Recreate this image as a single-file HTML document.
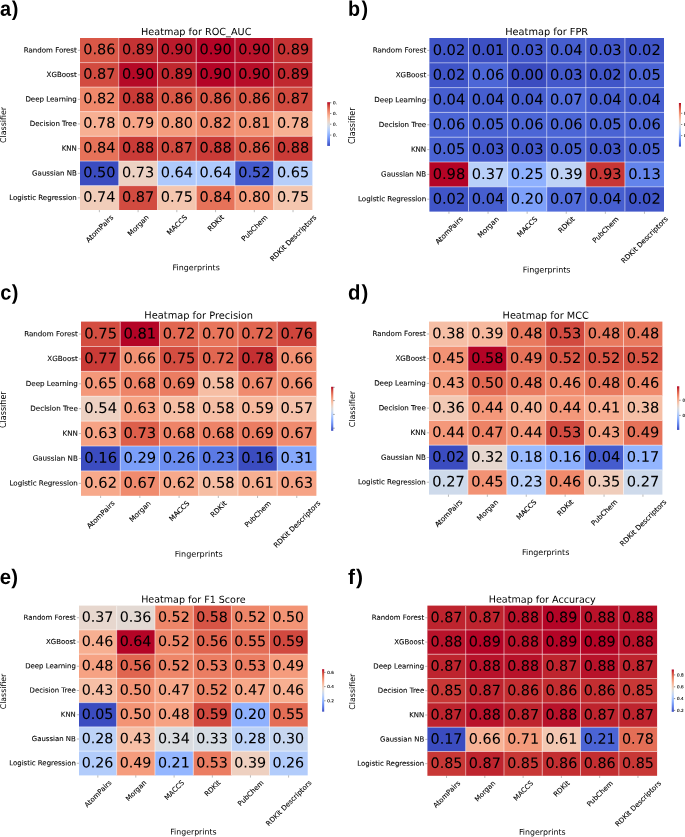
<!DOCTYPE html>
<html lang="en">
<head>
<meta charset="utf-8">
<title>Classifier / fingerprint heatmaps</title>
<style>
html,body{margin:0;padding:0;background:#fff;}
body{width:685px;height:837px;overflow:hidden;}
svg{display:block;will-change:transform;}
text{font-family:"DejaVu Sans","Liberation Sans",sans-serif;fill:#000;}
.tag{font-family:"Liberation Sans","DejaVu Sans",sans-serif;font-weight:700;font-size:21px;}
.ttl{text-anchor:middle;}
.ann text{text-anchor:middle;stroke:#000;stroke-width:.05;}
.ytk text{text-anchor:end;stroke:#000;stroke-width:.1;}
.xtk text{text-anchor:middle;stroke:#000;stroke-width:.1;}
.lab{text-anchor:middle;}
.cbt text{font-size:4.15px;stroke:#000;stroke-width:.12;}
.grid{stroke:#fff;stroke-width:.7;fill:none;stroke-opacity:.75;}
.tick{stroke:#000;stroke-width:.45;fill:none;stroke-opacity:.6;}
.ctick{stroke:#000;stroke-width:.5;fill:none;stroke-opacity:.9;}
</style>
</head>
<body>
<svg width="685" height="837" viewBox="0 0 685 837">
<defs>
<linearGradient id="cw" x1="0" y1="0" x2="0" y2="1">
<stop offset="0.0000" stop-color="#b40426"/>
<stop offset="0.0625" stop-color="#ca3b37"/>
<stop offset="0.1250" stop-color="#dd5f4b"/>
<stop offset="0.1875" stop-color="#eb7d62"/>
<stop offset="0.2500" stop-color="#f4987a"/>
<stop offset="0.3125" stop-color="#f7b093"/>
<stop offset="0.3750" stop-color="#f5c4ac"/>
<stop offset="0.4375" stop-color="#ecd3c5"/>
<stop offset="0.5000" stop-color="#dddcdc"/>
<stop offset="0.5625" stop-color="#ccd9ed"/>
<stop offset="0.6250" stop-color="#b9d0f9"/>
<stop offset="0.6875" stop-color="#a3c2fe"/>
<stop offset="0.7500" stop-color="#8db0fe"/>
<stop offset="0.8125" stop-color="#779af7"/>
<stop offset="0.8750" stop-color="#6282ea"/>
<stop offset="0.9375" stop-color="#4e68d8"/>
<stop offset="1.0000" stop-color="#3b4cc0"/>
</linearGradient>
<clipPath id="clip0"><rect x="0" y="0" width="338" height="837"/></clipPath>
<clipPath id="clip1"><rect x="0" y="0" width="685" height="837"/></clipPath>
<clipPath id="clip2"><rect x="0" y="0" width="336" height="837"/></clipPath>
<clipPath id="clip3"><rect x="0" y="0" width="685" height="837"/></clipPath>
<clipPath id="clip4"><rect x="0" y="0" width="685" height="837"/></clipPath>
<clipPath id="clip5"><rect x="0" y="0" width="685" height="837"/></clipPath>
</defs>
<rect x="0" y="0" width="685" height="837" fill="#fff"/>
<g class="panel">
<text class="tag" transform="translate(0 15.8) rotate(0.05) scale(0.95 1)">a<tspan dx="0.6">)</tspan></text>
<text class="ttl" font-size="9.7" transform="translate(196.2 35.05) rotate(0.05)">Heatmap for ROC_AUC</text>
<g>
<rect x="80" y="38" width="39.03" height="24.9" fill="#d95847"/>
<rect x="118.73" y="38" width="39.03" height="24.9" fill="#c53334"/>
<rect x="157.47" y="38" width="39.03" height="24.9" fill="#bb1b2c"/>
<rect x="196.2" y="38" width="39.03" height="24.9" fill="#b40426"/>
<rect x="234.93" y="38" width="39.03" height="24.9" fill="#b8122a"/>
<rect x="273.67" y="38" width="38.73" height="24.9" fill="#c53334"/>
<rect x="80" y="62.6" width="39.03" height="24.8" fill="#d24b40"/>
<rect x="118.73" y="62.6" width="39.03" height="24.8" fill="#b50927"/>
<rect x="157.47" y="62.6" width="39.03" height="24.8" fill="#c0282f"/>
<rect x="196.2" y="62.6" width="39.03" height="24.8" fill="#b40426"/>
<rect x="234.93" y="62.6" width="39.03" height="24.8" fill="#b70d28"/>
<rect x="273.67" y="62.6" width="38.73" height="24.8" fill="#c0282f"/>
<rect x="80" y="87.1" width="39.03" height="24.8" fill="#ef886b"/>
<rect x="118.73" y="87.1" width="39.03" height="24.8" fill="#ca3b37"/>
<rect x="157.47" y="87.1" width="39.03" height="24.8" fill="#d95847"/>
<rect x="196.2" y="87.1" width="39.03" height="24.8" fill="#d95847"/>
<rect x="234.93" y="87.1" width="39.03" height="24.8" fill="#d95847"/>
<rect x="273.67" y="87.1" width="38.73" height="24.8" fill="#d24b40"/>
<rect x="80" y="111.6" width="39.03" height="25" fill="#f7b093"/>
<rect x="118.73" y="111.6" width="39.03" height="25" fill="#f7a688"/>
<rect x="157.47" y="111.6" width="39.03" height="25" fill="#f59d7e"/>
<rect x="196.2" y="111.6" width="39.03" height="25" fill="#ef886b"/>
<rect x="234.93" y="111.6" width="39.03" height="25" fill="#f39475"/>
<rect x="273.67" y="111.6" width="38.73" height="25" fill="#f7b093"/>
<rect x="80" y="136.3" width="39.03" height="25.05" fill="#e67259"/>
<rect x="118.73" y="136.3" width="39.03" height="25.05" fill="#ca3b37"/>
<rect x="157.47" y="136.3" width="39.03" height="25.05" fill="#d24b40"/>
<rect x="196.2" y="136.3" width="39.03" height="25.05" fill="#ca3b37"/>
<rect x="234.93" y="136.3" width="39.03" height="25.05" fill="#d95847"/>
<rect x="273.67" y="136.3" width="38.73" height="25.05" fill="#ca3b37"/>
<rect x="80" y="161.05" width="39.03" height="24.9" fill="#3b4cc0"/>
<rect x="118.73" y="161.05" width="39.03" height="24.9" fill="#edd2c3"/>
<rect x="157.47" y="161.05" width="39.03" height="24.9" fill="#aec9fc"/>
<rect x="196.2" y="161.05" width="39.03" height="24.9" fill="#aec9fc"/>
<rect x="234.93" y="161.05" width="39.03" height="24.9" fill="#445acc"/>
<rect x="273.67" y="161.05" width="38.73" height="24.9" fill="#b6cefa"/>
<rect x="80" y="185.65" width="39.03" height="24.35" fill="#f1cdba"/>
<rect x="118.73" y="185.65" width="39.03" height="24.35" fill="#d24b40"/>
<rect x="157.47" y="185.65" width="39.03" height="24.35" fill="#f4c6af"/>
<rect x="196.2" y="185.65" width="39.03" height="24.35" fill="#e67259"/>
<rect x="234.93" y="185.65" width="39.03" height="24.35" fill="#f59d7e"/>
<rect x="273.67" y="185.65" width="38.73" height="24.35" fill="#f4c6af"/>
</g>
<path class="grid" d="M118.73 38V210M157.47 38V210M196.2 38V210M234.93 38V210M273.67 38V210M80 62.6H312.4M80 87.1H312.4M80 111.6H312.4M80 136.3H312.4M80 161.05H312.4M80 185.65H312.4"/>
<g class="ann" font-size="14.5">
<text transform="translate(99.37 54.15) rotate(0.05)">0.86</text>
<text transform="translate(138.1 54.15) rotate(0.05)">0.89</text>
<text transform="translate(176.83 54.15) rotate(0.05)">0.90</text>
<text transform="translate(215.57 54.15) rotate(0.05)">0.90</text>
<text transform="translate(254.3 54.15) rotate(0.05)">0.90</text>
<text transform="translate(293.03 54.15) rotate(0.05)">0.89</text>
<text transform="translate(99.37 78.7) rotate(0.05)">0.87</text>
<text transform="translate(138.1 78.7) rotate(0.05)">0.90</text>
<text transform="translate(176.83 78.7) rotate(0.05)">0.89</text>
<text transform="translate(215.57 78.7) rotate(0.05)">0.90</text>
<text transform="translate(254.3 78.7) rotate(0.05)">0.90</text>
<text transform="translate(293.03 78.7) rotate(0.05)">0.89</text>
<text transform="translate(99.37 103.2) rotate(0.05)">0.82</text>
<text transform="translate(138.1 103.2) rotate(0.05)">0.88</text>
<text transform="translate(176.83 103.2) rotate(0.05)">0.86</text>
<text transform="translate(215.57 103.2) rotate(0.05)">0.86</text>
<text transform="translate(254.3 103.2) rotate(0.05)">0.86</text>
<text transform="translate(293.03 103.2) rotate(0.05)">0.87</text>
<text transform="translate(99.37 127.8) rotate(0.05)">0.78</text>
<text transform="translate(138.1 127.8) rotate(0.05)">0.79</text>
<text transform="translate(176.83 127.8) rotate(0.05)">0.80</text>
<text transform="translate(215.57 127.8) rotate(0.05)">0.82</text>
<text transform="translate(254.3 127.8) rotate(0.05)">0.81</text>
<text transform="translate(293.03 127.8) rotate(0.05)">0.78</text>
<text transform="translate(99.37 152.53) rotate(0.05)">0.84</text>
<text transform="translate(138.1 152.53) rotate(0.05)">0.88</text>
<text transform="translate(176.83 152.53) rotate(0.05)">0.87</text>
<text transform="translate(215.57 152.53) rotate(0.05)">0.88</text>
<text transform="translate(254.3 152.53) rotate(0.05)">0.86</text>
<text transform="translate(293.03 152.53) rotate(0.05)">0.88</text>
<text transform="translate(99.37 177.2) rotate(0.05)">0.50</text>
<text transform="translate(138.1 177.2) rotate(0.05)">0.73</text>
<text transform="translate(176.83 177.2) rotate(0.05)">0.64</text>
<text transform="translate(215.57 177.2) rotate(0.05)">0.64</text>
<text transform="translate(254.3 177.2) rotate(0.05)">0.52</text>
<text transform="translate(293.03 177.2) rotate(0.05)">0.65</text>
<text transform="translate(99.37 201.67) rotate(0.05)">0.74</text>
<text transform="translate(138.1 201.67) rotate(0.05)">0.87</text>
<text transform="translate(176.83 201.67) rotate(0.05)">0.75</text>
<text transform="translate(215.57 201.67) rotate(0.05)">0.84</text>
<text transform="translate(254.3 201.67) rotate(0.05)">0.80</text>
<text transform="translate(293.03 201.67) rotate(0.05)">0.75</text>
</g>
<g class="ytk" font-size="7.05">
<text transform="translate(76.8 52.45) rotate(0.05)">Random Forest</text>
<text transform="translate(76.8 77) rotate(0.05)">XGBoost</text>
<text transform="translate(76.8 101.5) rotate(0.05)">Deep Learning</text>
<text transform="translate(76.8 126.1) rotate(0.05)">Decision Tree</text>
<text transform="translate(76.8 150.83) rotate(0.05)">KNN</text>
<text transform="translate(76.8 175.5) rotate(0.05)">Gaussian NB</text>
<text transform="translate(76.8 199.97) rotate(0.05)">Logistic Regression</text>
</g>
<g class="xtk" font-size="7.05">
<text transform="translate(99.37 228.52) rotate(-45)" y="2.6">AtomPairs</text>
<text transform="translate(138.1 225.34) rotate(-45)" y="2.6">Morgan</text>
<text transform="translate(176.83 224.87) rotate(-45)" y="2.6">MACCS</text>
<text transform="translate(215.57 222.95) rotate(-45)" y="2.6">RDKit</text>
<text transform="translate(254.3 227.89) rotate(-45)" y="2.6">PubChem</text>
<text transform="translate(293.03 237.99) rotate(-45)" y="2.6">RDKit Descriptors</text>
</g>
<path class="tick" d="M77.8 50.3H80M77.8 74.85H80M77.8 99.35H80M77.8 123.95H80M77.8 148.68H80M77.8 173.35H80M77.8 197.82H80M99.37 210V212.2M138.1 210V212.2M176.83 210V212.2M215.57 210V212.2M254.3 210V212.2M293.03 210V212.2"/>
<text class="lab" font-size="7.95" transform="translate(196.2 270.2) rotate(0.05)">Fingerprints</text>
<text class="lab" font-size="7.95" transform="translate(5.9 125) rotate(-90)">Classifier</text>
<rect x="327.2" y="102.2" width="2.8" height="43.7" fill="url(#cw)"/>
<g class="cbt" clip-path="url(#clip0)">
<text transform="translate(333.1 104.25) rotate(0.05)">0.</text>
<text transform="translate(333.1 115) rotate(0.05)">0.</text>
<text transform="translate(333.1 125.7) rotate(0.05)">0.</text>
<text transform="translate(333.1 136.6) rotate(0.05)">0.</text>
</g>
<path class="ctick" d="M330 102.75H331.3M330 113.5H331.3M330 124.2H331.3M330 135.1H331.3"/>
</g>
<g class="panel">
<text class="tag" transform="translate(348 15.8) rotate(0.05) scale(0.94 1)">b<tspan dx="1.6">)</tspan></text>
<text class="ttl" font-size="9.79" transform="translate(546.7 35.05) rotate(0.05)">Heatmap for FPR</text>
<g>
<rect x="429.4" y="38" width="39.4" height="25.1" fill="#4055c8"/>
<rect x="468.5" y="38" width="39.4" height="25.1" fill="#3d50c3"/>
<rect x="507.6" y="38" width="39.4" height="25.1" fill="#4358cb"/>
<rect x="546.7" y="38" width="39.4" height="25.1" fill="#465ecf"/>
<rect x="585.8" y="38" width="39.4" height="25.1" fill="#4358cb"/>
<rect x="624.9" y="38" width="39.1" height="25.1" fill="#4055c8"/>
<rect x="429.4" y="62.8" width="39.4" height="25.1" fill="#4055c8"/>
<rect x="468.5" y="62.8" width="39.4" height="25.1" fill="#4c66d6"/>
<rect x="507.6" y="62.8" width="39.4" height="25.1" fill="#3b4cc0"/>
<rect x="546.7" y="62.8" width="39.4" height="25.1" fill="#4358cb"/>
<rect x="585.8" y="62.8" width="39.4" height="25.1" fill="#4055c8"/>
<rect x="624.9" y="62.8" width="39.1" height="25.1" fill="#4a63d3"/>
<rect x="429.4" y="87.6" width="39.4" height="25.1" fill="#465ecf"/>
<rect x="468.5" y="87.6" width="39.4" height="25.1" fill="#465ecf"/>
<rect x="507.6" y="87.6" width="39.4" height="25.1" fill="#465ecf"/>
<rect x="546.7" y="87.6" width="39.4" height="25.1" fill="#506bda"/>
<rect x="585.8" y="87.6" width="39.4" height="25.1" fill="#465ecf"/>
<rect x="624.9" y="87.6" width="39.1" height="25.1" fill="#465ecf"/>
<rect x="429.4" y="112.4" width="39.4" height="25.1" fill="#4c66d6"/>
<rect x="468.5" y="112.4" width="39.4" height="25.1" fill="#4a63d3"/>
<rect x="507.6" y="112.4" width="39.4" height="25.1" fill="#4c66d6"/>
<rect x="546.7" y="112.4" width="39.4" height="25.1" fill="#4c66d6"/>
<rect x="585.8" y="112.4" width="39.4" height="25.1" fill="#4a63d3"/>
<rect x="624.9" y="112.4" width="39.1" height="25.1" fill="#4c66d6"/>
<rect x="429.4" y="137.2" width="39.4" height="25.1" fill="#4a63d3"/>
<rect x="468.5" y="137.2" width="39.4" height="25.1" fill="#4358cb"/>
<rect x="507.6" y="137.2" width="39.4" height="25.1" fill="#4358cb"/>
<rect x="546.7" y="137.2" width="39.4" height="25.1" fill="#4a63d3"/>
<rect x="585.8" y="137.2" width="39.4" height="25.1" fill="#4358cb"/>
<rect x="624.9" y="137.2" width="39.1" height="25.1" fill="#4a63d3"/>
<rect x="429.4" y="162" width="39.4" height="25.1" fill="#b40426"/>
<rect x="468.5" y="162" width="39.4" height="25.1" fill="#b9d0f9"/>
<rect x="507.6" y="162" width="39.4" height="25.1" fill="#8fb1fe"/>
<rect x="546.7" y="162" width="39.4" height="25.1" fill="#bfd3f6"/>
<rect x="585.8" y="162" width="39.4" height="25.1" fill="#c73635"/>
<rect x="624.9" y="162" width="39.1" height="25.1" fill="#6384eb"/>
<rect x="429.4" y="186.8" width="39.4" height="24.8" fill="#4055c8"/>
<rect x="468.5" y="186.8" width="39.4" height="24.8" fill="#465ecf"/>
<rect x="507.6" y="186.8" width="39.4" height="24.8" fill="#7da0f9"/>
<rect x="546.7" y="186.8" width="39.4" height="24.8" fill="#506bda"/>
<rect x="585.8" y="186.8" width="39.4" height="24.8" fill="#465ecf"/>
<rect x="624.9" y="186.8" width="39.1" height="24.8" fill="#4055c8"/>
</g>
<path class="grid" d="M468.5 38V211.6M507.6 38V211.6M546.7 38V211.6M585.8 38V211.6M624.9 38V211.6M429.4 62.8H664M429.4 87.6H664M429.4 112.4H664M429.4 137.2H664M429.4 162H664M429.4 186.8H664"/>
<g class="ann" font-size="14.64">
<text transform="translate(448.95 54.89) rotate(0.05)">0.02</text>
<text transform="translate(488.05 54.89) rotate(0.05)">0.01</text>
<text transform="translate(527.15 54.89) rotate(0.05)">0.03</text>
<text transform="translate(566.25 54.89) rotate(0.05)">0.04</text>
<text transform="translate(605.35 54.89) rotate(0.05)">0.03</text>
<text transform="translate(644.45 54.89) rotate(0.05)">0.02</text>
<text transform="translate(448.95 79.69) rotate(0.05)">0.02</text>
<text transform="translate(488.05 79.69) rotate(0.05)">0.06</text>
<text transform="translate(527.15 79.69) rotate(0.05)">0.00</text>
<text transform="translate(566.25 79.69) rotate(0.05)">0.03</text>
<text transform="translate(605.35 79.69) rotate(0.05)">0.02</text>
<text transform="translate(644.45 79.69) rotate(0.05)">0.05</text>
<text transform="translate(448.95 104.49) rotate(0.05)">0.04</text>
<text transform="translate(488.05 104.49) rotate(0.05)">0.04</text>
<text transform="translate(527.15 104.49) rotate(0.05)">0.04</text>
<text transform="translate(566.25 104.49) rotate(0.05)">0.07</text>
<text transform="translate(605.35 104.49) rotate(0.05)">0.04</text>
<text transform="translate(644.45 104.49) rotate(0.05)">0.04</text>
<text transform="translate(448.95 129.29) rotate(0.05)">0.06</text>
<text transform="translate(488.05 129.29) rotate(0.05)">0.05</text>
<text transform="translate(527.15 129.29) rotate(0.05)">0.06</text>
<text transform="translate(566.25 129.29) rotate(0.05)">0.06</text>
<text transform="translate(605.35 129.29) rotate(0.05)">0.05</text>
<text transform="translate(644.45 129.29) rotate(0.05)">0.06</text>
<text transform="translate(448.95 154.09) rotate(0.05)">0.05</text>
<text transform="translate(488.05 154.09) rotate(0.05)">0.03</text>
<text transform="translate(527.15 154.09) rotate(0.05)">0.03</text>
<text transform="translate(566.25 154.09) rotate(0.05)">0.05</text>
<text transform="translate(605.35 154.09) rotate(0.05)">0.03</text>
<text transform="translate(644.45 154.09) rotate(0.05)">0.05</text>
<text transform="translate(448.95 178.89) rotate(0.05)">0.98</text>
<text transform="translate(488.05 178.89) rotate(0.05)">0.37</text>
<text transform="translate(527.15 178.89) rotate(0.05)">0.25</text>
<text transform="translate(566.25 178.89) rotate(0.05)">0.39</text>
<text transform="translate(605.35 178.89) rotate(0.05)">0.93</text>
<text transform="translate(644.45 178.89) rotate(0.05)">0.13</text>
<text transform="translate(448.95 203.69) rotate(0.05)">0.02</text>
<text transform="translate(488.05 203.69) rotate(0.05)">0.04</text>
<text transform="translate(527.15 203.69) rotate(0.05)">0.20</text>
<text transform="translate(566.25 203.69) rotate(0.05)">0.07</text>
<text transform="translate(605.35 203.69) rotate(0.05)">0.04</text>
<text transform="translate(644.45 203.69) rotate(0.05)">0.02</text>
</g>
<g class="ytk" font-size="7.12">
<text transform="translate(426.2 52.57) rotate(0.05)">Random Forest</text>
<text transform="translate(426.2 77.37) rotate(0.05)">XGBoost</text>
<text transform="translate(426.2 102.17) rotate(0.05)">Deep Learning</text>
<text transform="translate(426.2 126.97) rotate(0.05)">Decision Tree</text>
<text transform="translate(426.2 151.77) rotate(0.05)">KNN</text>
<text transform="translate(426.2 176.57) rotate(0.05)">Gaussian NB</text>
<text transform="translate(426.2 201.37) rotate(0.05)">Logistic Regression</text>
</g>
<g class="xtk" font-size="7.12">
<text transform="translate(448.95 230.26) rotate(-45)" y="2.62">AtomPairs</text>
<text transform="translate(488.05 227.05) rotate(-45)" y="2.62">Morgan</text>
<text transform="translate(527.15 226.58) rotate(-45)" y="2.62">MACCS</text>
<text transform="translate(566.25 224.64) rotate(-45)" y="2.62">RDKit</text>
<text transform="translate(605.35 229.63) rotate(-45)" y="2.62">PubChem</text>
<text transform="translate(644.45 239.82) rotate(-45)" y="2.62">RDKit Descriptors</text>
</g>
<path class="tick" d="M427.2 50.4H429.4M427.2 75.2H429.4M427.2 100H429.4M427.2 124.8H429.4M427.2 149.6H429.4M427.2 174.4H429.4M427.2 199.2H429.4M448.95 211.6V213.8M488.05 211.6V213.8M527.15 211.6V213.8M566.25 211.6V213.8M605.35 211.6V213.8M644.45 211.6V213.8"/>
<text class="lab" font-size="8.03" transform="translate(546.7 272.5) rotate(0.05)">Fingerprints</text>
<text class="lab" font-size="8.03" transform="translate(354.6 125.8) rotate(-90)">Classifier</text>
<rect x="678.9" y="103" width="2.1" height="43.6" fill="url(#cw)"/>
<g class="cbt" clip-path="url(#clip1)">
<text transform="translate(684.1 114.8) rotate(0.05)">0.75</text>
<text transform="translate(684.1 126) rotate(0.05)">0.50</text>
<text transform="translate(684.1 137.1) rotate(0.05)">0.25</text>
</g>
<path class="ctick" d="M681 113.3H682.3M681 124.5H682.3M681 135.6H682.3"/>
</g>
<g class="panel">
<text class="tag" transform="translate(0.2 299.5) rotate(0.05) scale(0.95 1)">c<tspan dx="0.6">)</tspan></text>
<text class="ttl" font-size="9.83" transform="translate(198.7 318.65) rotate(0.05)">Heatmap for Precision</text>
<g>
<rect x="81" y="321.6" width="39.53" height="25.19" fill="#d44e41"/>
<rect x="120.23" y="321.6" width="39.53" height="25.19" fill="#b40426"/>
<rect x="159.47" y="321.6" width="39.53" height="25.19" fill="#e16751"/>
<rect x="198.7" y="321.6" width="39.53" height="25.19" fill="#e8765c"/>
<rect x="237.93" y="321.6" width="39.53" height="25.19" fill="#e16751"/>
<rect x="277.17" y="321.6" width="39.23" height="25.19" fill="#cf453c"/>
<rect x="81" y="346.49" width="39.53" height="25.19" fill="#ca3b37"/>
<rect x="120.23" y="346.49" width="39.53" height="25.19" fill="#f29274"/>
<rect x="159.47" y="346.49" width="39.53" height="25.19" fill="#d44e41"/>
<rect x="198.7" y="346.49" width="39.53" height="25.19" fill="#e16751"/>
<rect x="237.93" y="346.49" width="39.53" height="25.19" fill="#c43032"/>
<rect x="277.17" y="346.49" width="39.23" height="25.19" fill="#f29274"/>
<rect x="81" y="371.37" width="39.53" height="25.19" fill="#f4987a"/>
<rect x="120.23" y="371.37" width="39.53" height="25.19" fill="#ee8468"/>
<rect x="159.47" y="371.37" width="39.53" height="25.19" fill="#eb7d62"/>
<rect x="198.7" y="371.37" width="39.53" height="25.19" fill="#f6bea4"/>
<rect x="237.93" y="371.37" width="39.53" height="25.19" fill="#f08b6e"/>
<rect x="277.17" y="371.37" width="39.23" height="25.19" fill="#f29274"/>
<rect x="81" y="396.26" width="39.53" height="25.19" fill="#edd1c2"/>
<rect x="120.23" y="396.26" width="39.53" height="25.19" fill="#f6a385"/>
<rect x="159.47" y="396.26" width="39.53" height="25.19" fill="#f6bea4"/>
<rect x="198.7" y="396.26" width="39.53" height="25.19" fill="#f6bea4"/>
<rect x="237.93" y="396.26" width="39.53" height="25.19" fill="#f7b99e"/>
<rect x="277.17" y="396.26" width="39.23" height="25.19" fill="#f5c2aa"/>
<rect x="81" y="421.14" width="39.53" height="25.19" fill="#f6a385"/>
<rect x="120.23" y="421.14" width="39.53" height="25.19" fill="#dd5f4b"/>
<rect x="159.47" y="421.14" width="39.53" height="25.19" fill="#ee8468"/>
<rect x="198.7" y="421.14" width="39.53" height="25.19" fill="#ee8468"/>
<rect x="237.93" y="421.14" width="39.53" height="25.19" fill="#eb7d62"/>
<rect x="277.17" y="421.14" width="39.23" height="25.19" fill="#f08b6e"/>
<rect x="81" y="446.03" width="39.53" height="25.19" fill="#3b4cc0"/>
<rect x="120.23" y="446.03" width="39.53" height="25.19" fill="#7b9ff9"/>
<rect x="159.47" y="446.03" width="39.53" height="25.19" fill="#6b8df0"/>
<rect x="198.7" y="446.03" width="39.53" height="25.19" fill="#5b7ae5"/>
<rect x="237.93" y="446.03" width="39.53" height="25.19" fill="#3b4cc0"/>
<rect x="277.17" y="446.03" width="39.23" height="25.19" fill="#86a9fc"/>
<rect x="81" y="470.91" width="39.53" height="24.89" fill="#f7a98b"/>
<rect x="120.23" y="470.91" width="39.53" height="24.89" fill="#f08b6e"/>
<rect x="159.47" y="470.91" width="39.53" height="24.89" fill="#f7a98b"/>
<rect x="198.7" y="470.91" width="39.53" height="24.89" fill="#f6bea4"/>
<rect x="237.93" y="470.91" width="39.53" height="24.89" fill="#f7af91"/>
<rect x="277.17" y="470.91" width="39.23" height="24.89" fill="#f6a385"/>
</g>
<path class="grid" d="M120.23 321.6V495.8M159.47 321.6V495.8M198.7 321.6V495.8M237.93 321.6V495.8M277.17 321.6V495.8M81 346.49H316.4M81 371.37H316.4M81 396.26H316.4M81 421.14H316.4M81 446.03H316.4M81 470.91H316.4"/>
<g class="ann" font-size="14.69">
<text transform="translate(100.62 338.39) rotate(0.05)">0.75</text>
<text transform="translate(139.85 338.39) rotate(0.05)">0.81</text>
<text transform="translate(179.08 338.39) rotate(0.05)">0.72</text>
<text transform="translate(218.32 338.39) rotate(0.05)">0.70</text>
<text transform="translate(257.55 338.39) rotate(0.05)">0.72</text>
<text transform="translate(296.78 338.39) rotate(0.05)">0.76</text>
<text transform="translate(100.62 363.28) rotate(0.05)">0.77</text>
<text transform="translate(139.85 363.28) rotate(0.05)">0.66</text>
<text transform="translate(179.08 363.28) rotate(0.05)">0.75</text>
<text transform="translate(218.32 363.28) rotate(0.05)">0.72</text>
<text transform="translate(257.55 363.28) rotate(0.05)">0.78</text>
<text transform="translate(296.78 363.28) rotate(0.05)">0.66</text>
<text transform="translate(100.62 388.16) rotate(0.05)">0.65</text>
<text transform="translate(139.85 388.16) rotate(0.05)">0.68</text>
<text transform="translate(179.08 388.16) rotate(0.05)">0.69</text>
<text transform="translate(218.32 388.16) rotate(0.05)">0.58</text>
<text transform="translate(257.55 388.16) rotate(0.05)">0.67</text>
<text transform="translate(296.78 388.16) rotate(0.05)">0.66</text>
<text transform="translate(100.62 413.05) rotate(0.05)">0.54</text>
<text transform="translate(139.85 413.05) rotate(0.05)">0.63</text>
<text transform="translate(179.08 413.05) rotate(0.05)">0.58</text>
<text transform="translate(218.32 413.05) rotate(0.05)">0.58</text>
<text transform="translate(257.55 413.05) rotate(0.05)">0.59</text>
<text transform="translate(296.78 413.05) rotate(0.05)">0.57</text>
<text transform="translate(100.62 437.94) rotate(0.05)">0.63</text>
<text transform="translate(139.85 437.94) rotate(0.05)">0.73</text>
<text transform="translate(179.08 437.94) rotate(0.05)">0.68</text>
<text transform="translate(218.32 437.94) rotate(0.05)">0.68</text>
<text transform="translate(257.55 437.94) rotate(0.05)">0.69</text>
<text transform="translate(296.78 437.94) rotate(0.05)">0.67</text>
<text transform="translate(100.62 462.82) rotate(0.05)">0.16</text>
<text transform="translate(139.85 462.82) rotate(0.05)">0.29</text>
<text transform="translate(179.08 462.82) rotate(0.05)">0.26</text>
<text transform="translate(218.32 462.82) rotate(0.05)">0.23</text>
<text transform="translate(257.55 462.82) rotate(0.05)">0.16</text>
<text transform="translate(296.78 462.82) rotate(0.05)">0.31</text>
<text transform="translate(100.62 487.71) rotate(0.05)">0.62</text>
<text transform="translate(139.85 487.71) rotate(0.05)">0.67</text>
<text transform="translate(179.08 487.71) rotate(0.05)">0.62</text>
<text transform="translate(218.32 487.71) rotate(0.05)">0.58</text>
<text transform="translate(257.55 487.71) rotate(0.05)">0.61</text>
<text transform="translate(296.78 487.71) rotate(0.05)">0.63</text>
</g>
<g class="ytk" font-size="7.14">
<text transform="translate(77.8 336.22) rotate(0.05)">Random Forest</text>
<text transform="translate(77.8 361.11) rotate(0.05)">XGBoost</text>
<text transform="translate(77.8 385.99) rotate(0.05)">Deep Learning</text>
<text transform="translate(77.8 410.88) rotate(0.05)">Decision Tree</text>
<text transform="translate(77.8 435.76) rotate(0.05)">KNN</text>
<text transform="translate(77.8 460.65) rotate(0.05)">Gaussian NB</text>
<text transform="translate(77.8 485.53) rotate(0.05)">Logistic Regression</text>
</g>
<g class="xtk" font-size="7.14">
<text transform="translate(100.62 514.52) rotate(-45)" y="2.63">AtomPairs</text>
<text transform="translate(139.85 511.3) rotate(-45)" y="2.63">Morgan</text>
<text transform="translate(179.08 510.82) rotate(-45)" y="2.63">MACCS</text>
<text transform="translate(218.32 508.87) rotate(-45)" y="2.63">RDKit</text>
<text transform="translate(257.55 513.89) rotate(-45)" y="2.63">PubChem</text>
<text transform="translate(296.78 524.11) rotate(-45)" y="2.63">RDKit Descriptors</text>
</g>
<path class="tick" d="M78.8 334.04H81M78.8 358.93H81M78.8 383.81H81M78.8 408.7H81M78.8 433.59H81M78.8 458.47H81M78.8 483.36H81M100.62 495.8V498M139.85 495.8V498M179.08 495.8V498M218.32 495.8V498M257.55 495.8V498M296.78 495.8V498"/>
<text class="lab" font-size="8.05" transform="translate(198.7 556.8) rotate(0.05)">Fingerprints</text>
<text class="lab" font-size="8.05" transform="translate(5.9 409.7) rotate(-90)">Classifier</text>
<rect x="331.1" y="386.8" width="2.2" height="44" fill="url(#cw)"/>
<g class="cbt" clip-path="url(#clip2)">
</g>
<path class="ctick" d="M333.3 387.3H334.6M333.3 400.6H334.6M333.3 414.4H334.6M333.3 428.2H334.6"/>
</g>
<g class="panel">
<text class="tag" transform="translate(348.1 299.5) rotate(0.05) scale(0.97 1)">d<tspan dx="1.1">)</tspan></text>
<text class="ttl" font-size="9.74" transform="translate(545.7 318.65) rotate(0.05)">Heatmap for MCC</text>
<g>
<rect x="429" y="321.6" width="39.2" height="25.01" fill="#f6bfa6"/>
<rect x="467.9" y="321.6" width="39.2" height="25.01" fill="#f7b99e"/>
<rect x="506.8" y="321.6" width="39.2" height="25.01" fill="#e97a5f"/>
<rect x="545.7" y="321.6" width="39.2" height="25.01" fill="#d24b40"/>
<rect x="584.6" y="321.6" width="39.2" height="25.01" fill="#e97a5f"/>
<rect x="623.5" y="321.6" width="38.9" height="25.01" fill="#e97a5f"/>
<rect x="429" y="346.31" width="39.2" height="25.01" fill="#f29274"/>
<rect x="467.9" y="346.31" width="39.2" height="25.01" fill="#b40426"/>
<rect x="506.8" y="346.31" width="39.2" height="25.01" fill="#e67259"/>
<rect x="545.7" y="346.31" width="39.2" height="25.01" fill="#d85646"/>
<rect x="584.6" y="346.31" width="39.2" height="25.01" fill="#d85646"/>
<rect x="623.5" y="346.31" width="38.9" height="25.01" fill="#d85646"/>
<rect x="429" y="371.03" width="39.2" height="25.01" fill="#f5a081"/>
<rect x="467.9" y="371.03" width="39.2" height="25.01" fill="#e26952"/>
<rect x="506.8" y="371.03" width="39.2" height="25.01" fill="#e97a5f"/>
<rect x="545.7" y="371.03" width="39.2" height="25.01" fill="#f08a6c"/>
<rect x="584.6" y="371.03" width="39.2" height="25.01" fill="#e97a5f"/>
<rect x="623.5" y="371.03" width="38.9" height="25.01" fill="#f08a6c"/>
<rect x="429" y="395.74" width="39.2" height="25.01" fill="#f2c9b4"/>
<rect x="467.9" y="395.74" width="39.2" height="25.01" fill="#f4987a"/>
<rect x="506.8" y="395.74" width="39.2" height="25.01" fill="#f7b497"/>
<rect x="545.7" y="395.74" width="39.2" height="25.01" fill="#f4987a"/>
<rect x="584.6" y="395.74" width="39.2" height="25.01" fill="#f7ad90"/>
<rect x="623.5" y="395.74" width="38.9" height="25.01" fill="#f6bfa6"/>
<rect x="429" y="420.46" width="39.2" height="25.01" fill="#f4987a"/>
<rect x="467.9" y="420.46" width="39.2" height="25.01" fill="#ed8366"/>
<rect x="506.8" y="420.46" width="39.2" height="25.01" fill="#f4987a"/>
<rect x="545.7" y="420.46" width="39.2" height="25.01" fill="#d24b40"/>
<rect x="584.6" y="420.46" width="39.2" height="25.01" fill="#f5a081"/>
<rect x="623.5" y="420.46" width="38.9" height="25.01" fill="#e67259"/>
<rect x="429" y="445.17" width="39.2" height="25.01" fill="#3b4cc0"/>
<rect x="467.9" y="445.17" width="39.2" height="25.01" fill="#e6d7cf"/>
<rect x="506.8" y="445.17" width="39.2" height="25.01" fill="#9abbff"/>
<rect x="545.7" y="445.17" width="39.2" height="25.01" fill="#8db0fe"/>
<rect x="584.6" y="445.17" width="39.2" height="25.01" fill="#455cce"/>
<rect x="623.5" y="445.17" width="38.9" height="25.01" fill="#93b5fe"/>
<rect x="429" y="469.89" width="39.2" height="24.71" fill="#cedaeb"/>
<rect x="467.9" y="469.89" width="39.2" height="24.71" fill="#f29274"/>
<rect x="506.8" y="469.89" width="39.2" height="24.71" fill="#b9d0f9"/>
<rect x="545.7" y="469.89" width="39.2" height="24.71" fill="#f08a6c"/>
<rect x="584.6" y="469.89" width="39.2" height="24.71" fill="#f0cdbb"/>
<rect x="623.5" y="469.89" width="38.9" height="24.71" fill="#cedaeb"/>
</g>
<path class="grid" d="M467.9 321.6V494.6M506.8 321.6V494.6M545.7 321.6V494.6M584.6 321.6V494.6M623.5 321.6V494.6M429 346.31H662.4M429 371.03H662.4M429 395.74H662.4M429 420.46H662.4M429 445.17H662.4M429 469.89H662.4"/>
<g class="ann" font-size="14.56">
<text transform="translate(448.45 338.27) rotate(0.05)">0.38</text>
<text transform="translate(487.35 338.27) rotate(0.05)">0.39</text>
<text transform="translate(526.25 338.27) rotate(0.05)">0.48</text>
<text transform="translate(565.15 338.27) rotate(0.05)">0.53</text>
<text transform="translate(604.05 338.27) rotate(0.05)">0.48</text>
<text transform="translate(642.95 338.27) rotate(0.05)">0.48</text>
<text transform="translate(448.45 362.99) rotate(0.05)">0.45</text>
<text transform="translate(487.35 362.99) rotate(0.05)">0.58</text>
<text transform="translate(526.25 362.99) rotate(0.05)">0.49</text>
<text transform="translate(565.15 362.99) rotate(0.05)">0.52</text>
<text transform="translate(604.05 362.99) rotate(0.05)">0.52</text>
<text transform="translate(642.95 362.99) rotate(0.05)">0.52</text>
<text transform="translate(448.45 387.7) rotate(0.05)">0.43</text>
<text transform="translate(487.35 387.7) rotate(0.05)">0.50</text>
<text transform="translate(526.25 387.7) rotate(0.05)">0.48</text>
<text transform="translate(565.15 387.7) rotate(0.05)">0.46</text>
<text transform="translate(604.05 387.7) rotate(0.05)">0.48</text>
<text transform="translate(642.95 387.7) rotate(0.05)">0.46</text>
<text transform="translate(448.45 412.42) rotate(0.05)">0.36</text>
<text transform="translate(487.35 412.42) rotate(0.05)">0.44</text>
<text transform="translate(526.25 412.42) rotate(0.05)">0.40</text>
<text transform="translate(565.15 412.42) rotate(0.05)">0.44</text>
<text transform="translate(604.05 412.42) rotate(0.05)">0.41</text>
<text transform="translate(642.95 412.42) rotate(0.05)">0.38</text>
<text transform="translate(448.45 437.13) rotate(0.05)">0.44</text>
<text transform="translate(487.35 437.13) rotate(0.05)">0.47</text>
<text transform="translate(526.25 437.13) rotate(0.05)">0.44</text>
<text transform="translate(565.15 437.13) rotate(0.05)">0.53</text>
<text transform="translate(604.05 437.13) rotate(0.05)">0.43</text>
<text transform="translate(642.95 437.13) rotate(0.05)">0.49</text>
<text transform="translate(448.45 461.85) rotate(0.05)">0.02</text>
<text transform="translate(487.35 461.85) rotate(0.05)">0.32</text>
<text transform="translate(526.25 461.85) rotate(0.05)">0.18</text>
<text transform="translate(565.15 461.85) rotate(0.05)">0.16</text>
<text transform="translate(604.05 461.85) rotate(0.05)">0.04</text>
<text transform="translate(642.95 461.85) rotate(0.05)">0.17</text>
<text transform="translate(448.45 486.56) rotate(0.05)">0.27</text>
<text transform="translate(487.35 486.56) rotate(0.05)">0.45</text>
<text transform="translate(526.25 486.56) rotate(0.05)">0.23</text>
<text transform="translate(565.15 486.56) rotate(0.05)">0.46</text>
<text transform="translate(604.05 486.56) rotate(0.05)">0.35</text>
<text transform="translate(642.95 486.56) rotate(0.05)">0.27</text>
</g>
<g class="ytk" font-size="7.08">
<text transform="translate(425.8 336.12) rotate(0.05)">Random Forest</text>
<text transform="translate(425.8 360.83) rotate(0.05)">XGBoost</text>
<text transform="translate(425.8 385.54) rotate(0.05)">Deep Learning</text>
<text transform="translate(425.8 410.26) rotate(0.05)">Decision Tree</text>
<text transform="translate(425.8 434.97) rotate(0.05)">KNN</text>
<text transform="translate(425.8 459.69) rotate(0.05)">Gaussian NB</text>
<text transform="translate(425.8 484.4) rotate(0.05)">Logistic Regression</text>
</g>
<g class="xtk" font-size="7.08">
<text transform="translate(448.45 513.18) rotate(-45)" y="2.61">AtomPairs</text>
<text transform="translate(487.35 509.99) rotate(-45)" y="2.61">Morgan</text>
<text transform="translate(526.25 509.52) rotate(-45)" y="2.61">MACCS</text>
<text transform="translate(565.15 507.59) rotate(-45)" y="2.61">RDKit</text>
<text transform="translate(604.05 512.56) rotate(-45)" y="2.61">PubChem</text>
<text transform="translate(642.95 522.69) rotate(-45)" y="2.61">RDKit Descriptors</text>
</g>
<path class="tick" d="M426.8 333.96H429M426.8 358.67H429M426.8 383.39H429M426.8 408.1H429M426.8 432.81H429M426.8 457.53H429M426.8 482.24H429M448.45 494.6V496.8M487.35 494.6V496.8M526.25 494.6V496.8M565.15 494.6V496.8M604.05 494.6V496.8M642.95 494.6V496.8"/>
<text class="lab" font-size="7.98" transform="translate(545.7 555.1) rotate(0.05)">Fingerprints</text>
<text class="lab" font-size="7.98" transform="translate(354.6 409.1) rotate(-90)">Classifier</text>
<rect x="677" y="386.3" width="2.3" height="43.6" fill="url(#cw)"/>
<g class="cbt" clip-path="url(#clip3)">
<text transform="translate(682.4 401.75) rotate(0.05)">0.4</text>
<text transform="translate(682.4 416.9) rotate(0.05)">0.2</text>
</g>
<path class="ctick" d="M679.3 400.25H680.6M679.3 415.4H680.6"/>
</g>
<g class="panel">
<text class="tag" transform="translate(-0.3 583.9) rotate(0.05) scale(0.97 1)">e<tspan dx="0.3">)</tspan></text>
<text class="ttl" font-size="9.55" transform="translate(193.35 602.65) rotate(0.05)">Heatmap for F1 Score</text>
<g>
<rect x="79" y="605.6" width="37.95" height="24.56" fill="#e7d7ce"/>
<rect x="116.65" y="605.6" width="38.6" height="24.56" fill="#e3d9d3"/>
<rect x="154.95" y="605.6" width="38.65" height="24.56" fill="#ee8669"/>
<rect x="193.3" y="605.6" width="38.4" height="24.56" fill="#d75445"/>
<rect x="231.4" y="605.6" width="38.4" height="24.56" fill="#ee8669"/>
<rect x="269.5" y="605.6" width="38.2" height="24.56" fill="#f39475"/>
<rect x="79" y="629.86" width="37.95" height="24.56" fill="#f7af91"/>
<rect x="116.65" y="629.86" width="38.6" height="24.56" fill="#b40426"/>
<rect x="154.95" y="629.86" width="38.65" height="24.56" fill="#ee8669"/>
<rect x="193.3" y="629.86" width="38.4" height="24.56" fill="#e0654f"/>
<rect x="231.4" y="629.86" width="38.4" height="24.56" fill="#e46e56"/>
<rect x="269.5" y="629.86" width="38.2" height="24.56" fill="#d1493f"/>
<rect x="79" y="654.11" width="37.95" height="24.56" fill="#f6a283"/>
<rect x="116.65" y="654.11" width="38.6" height="24.56" fill="#e0654f"/>
<rect x="154.95" y="654.11" width="38.65" height="24.56" fill="#ee8669"/>
<rect x="193.3" y="654.11" width="38.4" height="24.56" fill="#eb7d62"/>
<rect x="231.4" y="654.11" width="38.4" height="24.56" fill="#eb7d62"/>
<rect x="269.5" y="654.11" width="38.2" height="24.56" fill="#f59c7d"/>
<rect x="79" y="678.37" width="37.95" height="24.56" fill="#f6bfa6"/>
<rect x="116.65" y="678.37" width="38.6" height="24.56" fill="#f39475"/>
<rect x="154.95" y="678.37" width="38.65" height="24.56" fill="#f7a889"/>
<rect x="193.3" y="678.37" width="38.4" height="24.56" fill="#ee8669"/>
<rect x="231.4" y="678.37" width="38.4" height="24.56" fill="#f7a889"/>
<rect x="269.5" y="678.37" width="38.2" height="24.56" fill="#f7af91"/>
<rect x="79" y="702.63" width="37.95" height="24.56" fill="#3b4cc0"/>
<rect x="116.65" y="702.63" width="38.6" height="24.56" fill="#f39475"/>
<rect x="154.95" y="702.63" width="38.65" height="24.56" fill="#f6a283"/>
<rect x="193.3" y="702.63" width="38.4" height="24.56" fill="#d1493f"/>
<rect x="231.4" y="702.63" width="38.4" height="24.56" fill="#8fb1fe"/>
<rect x="269.5" y="702.63" width="38.2" height="24.56" fill="#e46e56"/>
<rect x="79" y="726.89" width="37.95" height="24.56" fill="#bcd2f7"/>
<rect x="116.65" y="726.89" width="38.6" height="24.56" fill="#f6bfa6"/>
<rect x="154.95" y="726.89" width="38.65" height="24.56" fill="#dadce0"/>
<rect x="193.3" y="726.89" width="38.4" height="24.56" fill="#d6dce4"/>
<rect x="231.4" y="726.89" width="38.4" height="24.56" fill="#bcd2f7"/>
<rect x="269.5" y="726.89" width="38.2" height="24.56" fill="#c7d7f0"/>
<rect x="79" y="751.14" width="37.95" height="24.26" fill="#b2ccfb"/>
<rect x="116.65" y="751.14" width="38.6" height="24.26" fill="#f59c7d"/>
<rect x="154.95" y="751.14" width="38.65" height="24.26" fill="#94b6ff"/>
<rect x="193.3" y="751.14" width="38.4" height="24.26" fill="#eb7d62"/>
<rect x="231.4" y="751.14" width="38.4" height="24.26" fill="#eed0c0"/>
<rect x="269.5" y="751.14" width="38.2" height="24.26" fill="#b2ccfb"/>
</g>
<path class="grid" d="M116.65 605.6V775.4M154.95 605.6V775.4M193.3 605.6V775.4M231.4 605.6V775.4M269.5 605.6V775.4M79 629.86H307.7M79 654.11H307.7M79 678.37H307.7M79 702.63H307.7M79 726.89H307.7M79 751.14H307.7"/>
<g class="ann" font-size="14.27">
<text transform="translate(97.53 621.87) rotate(0.05)">0.37</text>
<text transform="translate(135.5 621.87) rotate(0.05)">0.36</text>
<text transform="translate(173.82 621.87) rotate(0.05)">0.52</text>
<text transform="translate(212.05 621.87) rotate(0.05)">0.58</text>
<text transform="translate(250.15 621.87) rotate(0.05)">0.52</text>
<text transform="translate(288.3 621.87) rotate(0.05)">0.50</text>
<text transform="translate(97.53 646.12) rotate(0.05)">0.46</text>
<text transform="translate(135.5 646.12) rotate(0.05)">0.64</text>
<text transform="translate(173.82 646.12) rotate(0.05)">0.52</text>
<text transform="translate(212.05 646.12) rotate(0.05)">0.56</text>
<text transform="translate(250.15 646.12) rotate(0.05)">0.55</text>
<text transform="translate(288.3 646.12) rotate(0.05)">0.59</text>
<text transform="translate(97.53 670.38) rotate(0.05)">0.48</text>
<text transform="translate(135.5 670.38) rotate(0.05)">0.56</text>
<text transform="translate(173.82 670.38) rotate(0.05)">0.52</text>
<text transform="translate(212.05 670.38) rotate(0.05)">0.53</text>
<text transform="translate(250.15 670.38) rotate(0.05)">0.53</text>
<text transform="translate(288.3 670.38) rotate(0.05)">0.49</text>
<text transform="translate(97.53 694.64) rotate(0.05)">0.43</text>
<text transform="translate(135.5 694.64) rotate(0.05)">0.50</text>
<text transform="translate(173.82 694.64) rotate(0.05)">0.47</text>
<text transform="translate(212.05 694.64) rotate(0.05)">0.52</text>
<text transform="translate(250.15 694.64) rotate(0.05)">0.47</text>
<text transform="translate(288.3 694.64) rotate(0.05)">0.46</text>
<text transform="translate(97.53 718.9) rotate(0.05)">0.05</text>
<text transform="translate(135.5 718.9) rotate(0.05)">0.50</text>
<text transform="translate(173.82 718.9) rotate(0.05)">0.48</text>
<text transform="translate(212.05 718.9) rotate(0.05)">0.59</text>
<text transform="translate(250.15 718.9) rotate(0.05)">0.20</text>
<text transform="translate(288.3 718.9) rotate(0.05)">0.55</text>
<text transform="translate(97.53 743.15) rotate(0.05)">0.28</text>
<text transform="translate(135.5 743.15) rotate(0.05)">0.43</text>
<text transform="translate(173.82 743.15) rotate(0.05)">0.34</text>
<text transform="translate(212.05 743.15) rotate(0.05)">0.33</text>
<text transform="translate(250.15 743.15) rotate(0.05)">0.28</text>
<text transform="translate(288.3 743.15) rotate(0.05)">0.30</text>
<text transform="translate(97.53 767.41) rotate(0.05)">0.26</text>
<text transform="translate(135.5 767.41) rotate(0.05)">0.49</text>
<text transform="translate(173.82 767.41) rotate(0.05)">0.21</text>
<text transform="translate(212.05 767.41) rotate(0.05)">0.53</text>
<text transform="translate(250.15 767.41) rotate(0.05)">0.39</text>
<text transform="translate(288.3 767.41) rotate(0.05)">0.26</text>
</g>
<g class="ytk" font-size="6.94">
<text transform="translate(75.8 619.84) rotate(0.05)">Random Forest</text>
<text transform="translate(75.8 644.1) rotate(0.05)">XGBoost</text>
<text transform="translate(75.8 668.36) rotate(0.05)">Deep Learning</text>
<text transform="translate(75.8 692.62) rotate(0.05)">Decision Tree</text>
<text transform="translate(75.8 716.87) rotate(0.05)">KNN</text>
<text transform="translate(75.8 741.13) rotate(0.05)">Gaussian NB</text>
<text transform="translate(75.8 765.39) rotate(0.05)">Logistic Regression</text>
</g>
<g class="xtk" font-size="6.94">
<text transform="translate(97.83 793.67) rotate(-45)" y="2.56">AtomPairs</text>
<text transform="translate(135.8 790.54) rotate(-45)" y="2.56">Morgan</text>
<text transform="translate(174.12 790.08) rotate(-45)" y="2.56">MACCS</text>
<text transform="translate(212.35 788.19) rotate(-45)" y="2.56">RDKit</text>
<text transform="translate(250.45 793.06) rotate(-45)" y="2.56">PubChem</text>
<text transform="translate(288.6 802.99) rotate(-45)" y="2.56">RDKit Descriptors</text>
</g>
<path class="tick" d="M76.8 617.73H79M76.8 641.99H79M76.8 666.24H79M76.8 690.5H79M76.8 714.76H79M76.8 739.01H79M76.8 763.27H79M97.83 775.4V777.6M135.8 775.4V777.6M174.12 775.4V777.6M212.35 775.4V777.6M250.45 775.4V777.6M288.6 775.4V777.6"/>
<text class="lab" font-size="7.82" transform="translate(193.35 834.6) rotate(0.05)">Fingerprints</text>
<text class="lab" font-size="7.82" transform="translate(5.9 691.5) rotate(-90)">Classifier</text>
<rect x="322.1" y="669.2" width="2.1" height="42.45" fill="url(#cw)"/>
<g class="cbt" clip-path="url(#clip4)">
<text transform="translate(327.3 673.9) rotate(0.05)">0.6</text>
<text transform="translate(327.3 688.1) rotate(0.05)">0.4</text>
<text transform="translate(327.3 702.3) rotate(0.05)">0.2</text>
</g>
<path class="ctick" d="M324.2 672.4H325.5M324.2 686.6H325.5M324.2 700.8H325.5"/>
</g>
<g class="panel">
<text class="tag" transform="translate(348.1 583.9) rotate(0.05) scale(1 1)">f<tspan dx="1">)</tspan></text>
<text class="ttl" font-size="9.59" transform="translate(542.25 602.65) rotate(0.05)">Heatmap for Accuracy</text>
<g>
<rect x="427.4" y="605.6" width="38.58" height="24.61" fill="#be242e"/>
<rect x="465.68" y="605.6" width="38.58" height="24.61" fill="#be242e"/>
<rect x="503.97" y="605.6" width="38.58" height="24.61" fill="#b8122a"/>
<rect x="542.25" y="605.6" width="38.58" height="24.61" fill="#b40426"/>
<rect x="580.53" y="605.6" width="38.58" height="24.61" fill="#b8122a"/>
<rect x="618.82" y="605.6" width="38.28" height="24.61" fill="#b8122a"/>
<rect x="427.4" y="629.91" width="38.58" height="24.61" fill="#b8122a"/>
<rect x="465.68" y="629.91" width="38.58" height="24.61" fill="#b40426"/>
<rect x="503.97" y="629.91" width="38.58" height="24.61" fill="#b8122a"/>
<rect x="542.25" y="629.91" width="38.58" height="24.61" fill="#b40426"/>
<rect x="580.53" y="629.91" width="38.58" height="24.61" fill="#b40426"/>
<rect x="618.82" y="629.91" width="38.28" height="24.61" fill="#b8122a"/>
<rect x="427.4" y="654.23" width="38.58" height="24.61" fill="#be242e"/>
<rect x="465.68" y="654.23" width="38.58" height="24.61" fill="#b8122a"/>
<rect x="503.97" y="654.23" width="38.58" height="24.61" fill="#b8122a"/>
<rect x="542.25" y="654.23" width="38.58" height="24.61" fill="#be242e"/>
<rect x="580.53" y="654.23" width="38.58" height="24.61" fill="#b8122a"/>
<rect x="618.82" y="654.23" width="38.28" height="24.61" fill="#be242e"/>
<rect x="427.4" y="678.54" width="38.58" height="24.61" fill="#c83836"/>
<rect x="465.68" y="678.54" width="38.58" height="24.61" fill="#be242e"/>
<rect x="503.97" y="678.54" width="38.58" height="24.61" fill="#c32e31"/>
<rect x="542.25" y="678.54" width="38.58" height="24.61" fill="#c32e31"/>
<rect x="580.53" y="678.54" width="38.58" height="24.61" fill="#c32e31"/>
<rect x="618.82" y="678.54" width="38.28" height="24.61" fill="#c83836"/>
<rect x="427.4" y="702.86" width="38.58" height="24.61" fill="#be242e"/>
<rect x="465.68" y="702.86" width="38.58" height="24.61" fill="#b8122a"/>
<rect x="503.97" y="702.86" width="38.58" height="24.61" fill="#be242e"/>
<rect x="542.25" y="702.86" width="38.58" height="24.61" fill="#b8122a"/>
<rect x="580.53" y="702.86" width="38.58" height="24.61" fill="#be242e"/>
<rect x="618.82" y="702.86" width="38.28" height="24.61" fill="#be242e"/>
<rect x="427.4" y="727.17" width="38.58" height="24.61" fill="#3b4cc0"/>
<rect x="465.68" y="727.17" width="38.58" height="24.61" fill="#f7b396"/>
<rect x="503.97" y="727.17" width="38.58" height="24.61" fill="#f49a7b"/>
<rect x="542.25" y="727.17" width="38.58" height="24.61" fill="#f3c8b2"/>
<rect x="580.53" y="727.17" width="38.58" height="24.61" fill="#4b64d5"/>
<rect x="618.82" y="727.17" width="38.28" height="24.61" fill="#e46e56"/>
<rect x="427.4" y="751.49" width="38.58" height="24.31" fill="#c83836"/>
<rect x="465.68" y="751.49" width="38.58" height="24.31" fill="#be242e"/>
<rect x="503.97" y="751.49" width="38.58" height="24.31" fill="#c83836"/>
<rect x="542.25" y="751.49" width="38.58" height="24.31" fill="#c32e31"/>
<rect x="580.53" y="751.49" width="38.58" height="24.31" fill="#c32e31"/>
<rect x="618.82" y="751.49" width="38.28" height="24.31" fill="#c83836"/>
</g>
<path class="grid" d="M465.68 605.6V775.8M503.97 605.6V775.8M542.25 605.6V775.8M580.53 605.6V775.8M618.82 605.6V775.8M427.4 629.91H657.1M427.4 654.23H657.1M427.4 678.54H657.1M427.4 702.86H657.1M427.4 727.17H657.1M427.4 751.49H657.1"/>
<g class="ann" font-size="14.33">
<text transform="translate(446.54 622.21) rotate(0.05)">0.87</text>
<text transform="translate(484.82 622.21) rotate(0.05)">0.87</text>
<text transform="translate(523.11 622.21) rotate(0.05)">0.88</text>
<text transform="translate(561.39 622.21) rotate(0.05)">0.89</text>
<text transform="translate(599.67 622.21) rotate(0.05)">0.88</text>
<text transform="translate(637.96 622.21) rotate(0.05)">0.88</text>
<text transform="translate(446.54 646.53) rotate(0.05)">0.88</text>
<text transform="translate(484.82 646.53) rotate(0.05)">0.89</text>
<text transform="translate(523.11 646.53) rotate(0.05)">0.88</text>
<text transform="translate(561.39 646.53) rotate(0.05)">0.89</text>
<text transform="translate(599.67 646.53) rotate(0.05)">0.89</text>
<text transform="translate(637.96 646.53) rotate(0.05)">0.88</text>
<text transform="translate(446.54 670.84) rotate(0.05)">0.87</text>
<text transform="translate(484.82 670.84) rotate(0.05)">0.88</text>
<text transform="translate(523.11 670.84) rotate(0.05)">0.88</text>
<text transform="translate(561.39 670.84) rotate(0.05)">0.87</text>
<text transform="translate(599.67 670.84) rotate(0.05)">0.88</text>
<text transform="translate(637.96 670.84) rotate(0.05)">0.87</text>
<text transform="translate(446.54 695.16) rotate(0.05)">0.85</text>
<text transform="translate(484.82 695.16) rotate(0.05)">0.87</text>
<text transform="translate(523.11 695.16) rotate(0.05)">0.86</text>
<text transform="translate(561.39 695.16) rotate(0.05)">0.86</text>
<text transform="translate(599.67 695.16) rotate(0.05)">0.86</text>
<text transform="translate(637.96 695.16) rotate(0.05)">0.85</text>
<text transform="translate(446.54 719.47) rotate(0.05)">0.87</text>
<text transform="translate(484.82 719.47) rotate(0.05)">0.88</text>
<text transform="translate(523.11 719.47) rotate(0.05)">0.87</text>
<text transform="translate(561.39 719.47) rotate(0.05)">0.88</text>
<text transform="translate(599.67 719.47) rotate(0.05)">0.87</text>
<text transform="translate(637.96 719.47) rotate(0.05)">0.87</text>
<text transform="translate(446.54 743.78) rotate(0.05)">0.17</text>
<text transform="translate(484.82 743.78) rotate(0.05)">0.66</text>
<text transform="translate(523.11 743.78) rotate(0.05)">0.71</text>
<text transform="translate(561.39 743.78) rotate(0.05)">0.61</text>
<text transform="translate(599.67 743.78) rotate(0.05)">0.21</text>
<text transform="translate(637.96 743.78) rotate(0.05)">0.78</text>
<text transform="translate(446.54 768.1) rotate(0.05)">0.85</text>
<text transform="translate(484.82 768.1) rotate(0.05)">0.87</text>
<text transform="translate(523.11 768.1) rotate(0.05)">0.85</text>
<text transform="translate(561.39 768.1) rotate(0.05)">0.86</text>
<text transform="translate(599.67 768.1) rotate(0.05)">0.86</text>
<text transform="translate(637.96 768.1) rotate(0.05)">0.85</text>
</g>
<g class="ytk" font-size="6.97">
<text transform="translate(424.2 619.88) rotate(0.05)">Random Forest</text>
<text transform="translate(424.2 644.2) rotate(0.05)">XGBoost</text>
<text transform="translate(424.2 668.51) rotate(0.05)">Deep Learning</text>
<text transform="translate(424.2 692.83) rotate(0.05)">Decision Tree</text>
<text transform="translate(424.2 717.14) rotate(0.05)">KNN</text>
<text transform="translate(424.2 741.45) rotate(0.05)">Gaussian NB</text>
<text transform="translate(424.2 765.77) rotate(0.05)">Logistic Regression</text>
</g>
<g class="xtk" font-size="6.97">
<text transform="translate(446.54 794.14) rotate(-45)" y="2.57">AtomPairs</text>
<text transform="translate(484.82 791) rotate(-45)" y="2.57">Morgan</text>
<text transform="translate(523.11 790.53) rotate(-45)" y="2.57">MACCS</text>
<text transform="translate(561.39 788.63) rotate(-45)" y="2.57">RDKit</text>
<text transform="translate(599.67 793.52) rotate(-45)" y="2.57">PubChem</text>
<text transform="translate(637.96 803.5) rotate(-45)" y="2.57">RDKit Descriptors</text>
</g>
<path class="tick" d="M425.2 617.76H427.4M425.2 642.07H427.4M425.2 666.39H427.4M425.2 690.7H427.4M425.2 715.01H427.4M425.2 739.33H427.4M425.2 763.64H427.4M446.54 775.8V778M484.82 775.8V778M523.11 775.8V778M561.39 775.8V778M599.67 775.8V778M637.96 775.8V778"/>
<text class="lab" font-size="7.86" transform="translate(542.25 834.7) rotate(0.05)">Fingerprints</text>
<text class="lab" font-size="7.86" transform="translate(354.6 691.7) rotate(-90)">Classifier</text>
<rect x="671.7" y="669.5" width="2.2" height="42.3" fill="url(#cw)"/>
<g class="cbt" clip-path="url(#clip5)">
<text transform="translate(677 676.4) rotate(0.05)">0.8</text>
<text transform="translate(677 688.3) rotate(0.05)">0.6</text>
<text transform="translate(677 700.1) rotate(0.05)">0.4</text>
<text transform="translate(677 711.9) rotate(0.05)">0.2</text>
</g>
<path class="ctick" d="M673.9 674.9H675.2M673.9 686.8H675.2M673.9 698.6H675.2M673.9 710.4H675.2"/>
</g>
</svg>
</body>
</html>
